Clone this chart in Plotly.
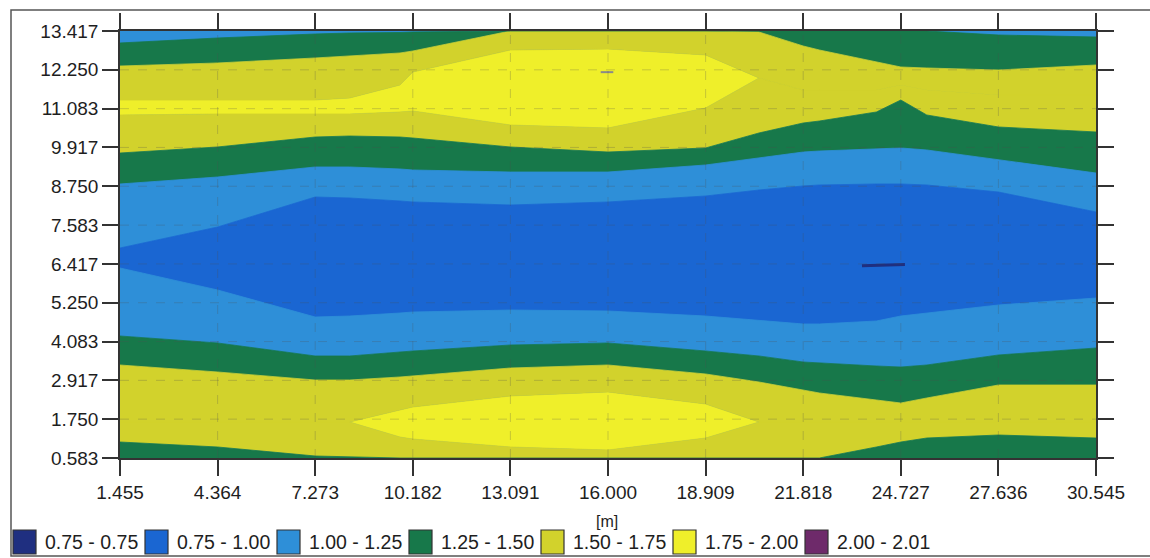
import plotly.graph_objects as go

# ---------------- data ----------------
x_ticks = [1.455, 4.364, 7.273, 10.182, 13.091, 16.000, 18.909, 21.818, 24.727, 27.636, 30.545]
y_ticks = [0.583, 1.750, 2.917, 4.083, 5.250, 6.417, 7.583, 8.750, 9.917, 11.083, 12.250, 13.417]

# x positions (m) at which the iso-band boundaries were read
x = [1.455, 4.364, 7.273, 8.3, 9.8, 10.182, 13.091, 16.0, 18.909, 20.5,
     21.818, 22.3, 24.0, 24.727, 25.5, 27.636, 30.545]

# iso-line positions (y in m), from bottom to top
b_green_low   = [1.064, 0.914, 0.643, 0.613, 0.583, 0.583, 0.583, 0.583, 0.583, 0.583,
                 0.583, 0.583, 0.914, 1.064, 1.184, 1.274, 1.184]          # 1.50 line
b_bright_lo_a = [1.665, 1.665, 1.665, 1.665, 1.214, 1.154, 0.914, 0.823, 1.184, 1.665,
                 1.665, 1.665, 1.665, 1.665, 1.665, 1.665, 1.665]          # 1.75 line
b_bright_lo_b = [1.665, 1.665, 1.665, 1.665, 2.026, 2.116, 2.447, 2.567, 2.206, 1.665,
                 1.665, 1.665, 1.665, 1.665, 1.665, 1.665, 1.665]          # 1.75 line
b_yellow_lo   = [3.378, 3.168, 2.927, 2.927, 3.018, 3.048, 3.288, 3.378, 3.108, 2.867,
                 2.627, 2.537, 2.326, 2.236, 2.386, 2.777, 2.777]          # 1.50 line
b_green_lo    = [4.250, 4.040, 3.649, 3.649, 3.769, 3.799, 3.979, 4.040, 3.799, 3.649,
                 3.468, 3.438, 3.348, 3.318, 3.378, 3.679, 3.889]          # 1.25 line
b_dark_lo     = [6.294, 5.633, 4.821, 4.851, 4.941, 4.971, 5.031, 5.001, 4.851, 4.731,
                 4.611, 4.611, 4.701, 4.851, 4.941, 5.182, 5.392]          # 1.00 line
b_dark_hi     = [6.895, 7.526, 8.428, 8.398, 8.308, 8.278, 8.187, 8.278, 8.458, 8.638,
                 8.759, 8.789, 8.819, 8.819, 8.789, 8.578, 7.977]          # 1.00 line
b_green_hi    = [8.819, 9.029, 9.330, 9.330, 9.270, 9.240, 9.179, 9.179, 9.390, 9.600,
                 9.780, 9.810, 9.871, 9.901, 9.841, 9.540, 9.149]          # 1.25 line
b_yellow_hi   = [9.750, 9.931, 10.231, 10.261, 10.231, 10.201, 9.931, 9.780, 9.901, 10.352,
                 10.652, 10.712, 10.983, 11.343, 10.893, 10.532, 10.382]   # 1.50 line
b_bright_hi_a = [10.893, 10.923, 10.923, 10.923, 10.983, 11.013, 10.592, 10.502, 11.103, 12.005,
                 11.644, 11.644, 11.644, 11.794, 11.644, 11.494, 11.494]   # 1.75 line
b_bright_hi_b = [11.343, 11.343, 11.343, 11.403, 11.794, 12.185, 12.846, 12.876, 12.696, 12.005,
                 11.644, 11.644, 11.644, 11.794, 11.644, 11.494, 11.494]   # 1.75 line
b_yellow_top  = [12.365, 12.456, 12.606, 12.666, 12.756, 12.816, 13.417, 13.417, 13.417, 13.387,
                 12.966, 12.846, 12.486, 12.335, 12.305, 12.245, 12.395]   # 1.50 line
b_green_top   = [13.057, 13.207, 13.327, 13.357, 13.372, 13.387, 13.417, 13.417, 13.417, 13.417,
                 13.417, 13.417, 13.417, 13.417, 13.417, 13.297, 13.237]   # 1.25 line

# minimum / maximum markers
min_x = [23.57, 24.85]
min_y = [6.36, 6.40]
max_x = [15.97]
max_y = [12.18]

legend_labels = ["0.75 - 0.75", "0.75 - 1.00", "1.00 - 1.25", "1.25 - 1.50",
                 "1.50 - 1.75", "1.75 - 2.00", "2.00 - 2.01"]
legend_colors = ["#1f2f80", "#1a66d2", "#2e8fd8", "#17784a", "#d2d22c", "#efef2a", "#6e2a6a"]

NAVY, DARK, LIGHT, GREEN, YEL, BRIGHT, PURP = legend_colors

# boundary -> (colour of the band just below it, colour of its edge line)
bands = [
    (b_green_low, GREEN, GREEN),
    (b_bright_lo_a, YEL, YEL),
    (b_bright_lo_b, BRIGHT, YEL),
    (b_yellow_lo, YEL, YEL),
    (b_green_lo, GREEN, GREEN),
    (b_dark_lo, LIGHT, LIGHT),
    (b_dark_hi, DARK, DARK),
    (b_green_hi, LIGHT, LIGHT),
    (b_yellow_hi, GREEN, GREEN),
    (b_bright_hi_a, YEL, YEL),
    (b_bright_hi_b, BRIGHT, YEL),
    (b_yellow_top, YEL, YEL),
    (b_green_top, GREEN, GREEN),
]

fig = go.Figure()
for i, (yb, col, lcol) in enumerate(bands):
    fig.add_trace(go.Scatter(
        x=x, y=yb, mode="lines",
        line=dict(width=0.8, color=lcol),
        fill="tozeroy" if i == 0 else "tonexty",
        fillcolor=col, hoverinfo="skip", showlegend=False))

fig.add_trace(go.Scatter(x=min_x, y=min_y, mode="lines",
                         line=dict(color=NAVY, width=3), showlegend=False, hoverinfo="skip"))
fig.add_trace(go.Scatter(x=max_x, y=max_y, mode="markers",
                         marker=dict(symbol="line-ew", size=9, line=dict(color="#8a8a8a", width=2)),
                         showlegend=False, hoverinfo="skip"))

# ---------------- layout ----------------
L, T, W, H = 120, 31, 976, 427   # plot area in pixels


def px(xp):
    return (xp - L) / W


def py(yp):
    return (T + H - yp) / H


FONT = "Liberation Sans, Arial, sans-serif"
TXT = "#1e1e1e"
AX = "#333333"

shapes = []
# faint dashed grid above the coloured bands
for xv in x_ticks[1:-1]:
    shapes.append(dict(type="line", xref="x", yref="paper", x0=xv, x1=xv, y0=0, y1=1,
                       line=dict(color="rgba(80,80,80,0.25)", width=1, dash="dash"), layer="above"))
for yv in y_ticks[1:-1]:
    shapes.append(dict(type="line", xref="paper", yref="y", x0=0, x1=1, y0=yv, y1=yv,
                       line=dict(color="rgba(80,80,80,0.25)", width=1, dash="dash"), layer="above"))

# outer frame
shapes.append(dict(type="rect", xref="paper", yref="paper",
                   x0=px(11), x1=px(1170), y0=py(556), y1=py(10),
                   line=dict(color="#555555", width=1.5), fillcolor="rgba(0,0,0,0)", layer="above"))

annotations = []
# legend drawn as swatches + text
for i, (lab, col) in enumerate(zip(legend_labels, legend_colors)):
    bx = 13 + 132 * i
    shapes.append(dict(type="rect", xref="paper", yref="paper",
                       x0=px(bx), x1=px(bx + 23), y0=py(554), y1=py(530),
                       fillcolor=col, line=dict(color="#333333", width=1.2), layer="above"))
    annotations.append(dict(xref="paper", yref="paper", x=px(bx + 30), y=py(542),
                            xanchor="left", yanchor="middle", text=lab, showarrow=False,
                            font=dict(family=FONT, size=19.5, color=TXT)))

annotations.append(dict(xref="paper", yref="paper", x=px(607), y=py(521),
                        xanchor="center", yanchor="middle", text="[m]", showarrow=False,
                        font=dict(family=FONT, size=16, color=TXT)))

fig.update_layout(
    width=1150, height=558,
    margin=dict(l=L, r=1150 - L - W, t=T, b=558 - T - H, pad=0),
    paper_bgcolor="white", plot_bgcolor=LIGHT,
    showlegend=False,
    shapes=shapes, annotations=annotations,
    font=dict(family=FONT, color=TXT),
)
fig.update_xaxes(range=[x_ticks[0], x_ticks[-1]], tickvals=x_ticks,
                 ticktext=[f"{v:.3f}" for v in x_ticks],
                 ticks="outside", ticklen=16, tickwidth=1.5, tickcolor=AX,
                 showline=True, linecolor=AX, linewidth=1.5, mirror="ticks",
                 showgrid=False, zeroline=False, layer="above traces",
                 tickfont=dict(family=FONT, size=19, color=TXT))
fig.update_yaxes(range=[y_ticks[0], y_ticks[-1]], tickvals=y_ticks,
                 ticktext=[f"{v:.3f}" for v in y_ticks],
                 ticks="outside", ticklen=16, tickwidth=1.5, tickcolor=AX,
                 showline=True, linecolor=AX, linewidth=1.5, mirror="ticks",
                 showgrid=False, zeroline=False, layer="above traces",
                 tickfont=dict(family=FONT, size=19, color=TXT))

fig.write_html("out.html")
